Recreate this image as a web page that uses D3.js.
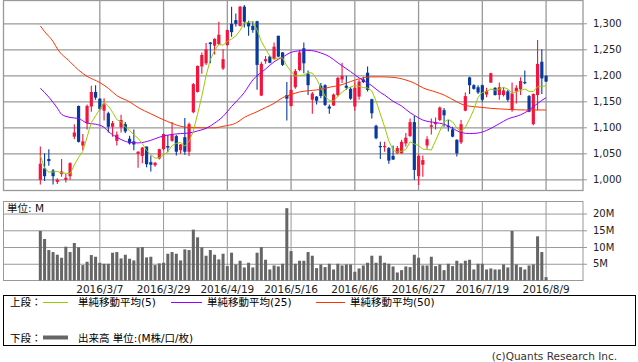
<!DOCTYPE html>
<html>
<head>
<meta charset="utf-8">
<script src="https://cdn.jsdelivr.net/npm/d3@7"></script>
<style>
    body { margin: 0; background: #fff; }
    svg { display: block; font-family: "DejaVu Sans", "Noto Sans CJK JP", sans-serif; }
    .grid line { stroke: #999; }
    .grid.top line { stroke-width: 1.3; }
    .grid .domain { display: none; }
    .axis .domain { display: none; }
    .axis line { stroke: #999; }
</style>
</head>
<body>
<svg width="638" height="362"></svg>
<script>
// trading days shown (categories)
const dates = [
    "2016/2/16","2016/2/17","2016/2/18","2016/2/19","2016/2/22","2016/2/23","2016/2/24","2016/2/25","2016/2/26","2016/2/29",
    "2016/3/1","2016/3/2","2016/3/3","2016/3/4","2016/3/7","2016/3/8","2016/3/9","2016/3/10","2016/3/11","2016/3/14",
    "2016/3/15","2016/3/16","2016/3/17","2016/3/18","2016/3/22","2016/3/23","2016/3/24","2016/3/25","2016/3/28","2016/3/29",
    "2016/3/30","2016/3/31","2016/4/1","2016/4/4","2016/4/5","2016/4/6","2016/4/7","2016/4/8","2016/4/11","2016/4/12",
    "2016/4/13","2016/4/14","2016/4/15","2016/4/18","2016/4/19","2016/4/20","2016/4/21","2016/4/22","2016/4/25","2016/4/26",
    "2016/4/27","2016/4/28","2016/5/2","2016/5/6","2016/5/9","2016/5/10","2016/5/11","2016/5/12","2016/5/13","2016/5/16",
    "2016/5/17","2016/5/18","2016/5/19","2016/5/20","2016/5/23","2016/5/24","2016/5/25","2016/5/26","2016/5/27","2016/5/30",
    "2016/5/31","2016/6/1","2016/6/2","2016/6/3","2016/6/6","2016/6/7","2016/6/8","2016/6/9","2016/6/10","2016/6/13",
    "2016/6/14","2016/6/15","2016/6/16","2016/6/17","2016/6/20","2016/6/21","2016/6/22","2016/6/23","2016/6/24","2016/6/27",
    "2016/6/28","2016/6/29","2016/6/30","2016/7/1","2016/7/4","2016/7/5","2016/7/6","2016/7/7","2016/7/8","2016/7/11",
    "2016/7/12","2016/7/13","2016/7/14","2016/7/15","2016/7/19","2016/7/20","2016/7/21","2016/7/22","2016/7/25","2016/7/26",
    "2016/7/27","2016/7/28","2016/7/29","2016/8/1","2016/8/2","2016/8/3","2016/8/4","2016/8/5","2016/8/8","2016/8/9"
];

const tickLabels = ["2016/3/7", "2016/3/29", "2016/4/19", "2016/5/16", "2016/6/6", "2016/6/27", "2016/7/19", "2016/8/9"];
const priceTicks = [1000, 1050, 1100, 1150, 1200, 1250, 1300];
const volTicks = [5, 10, 15, 20];

const open = [999,1021,1039,1017,995,1010,999,1006,1082,1141, 1065,1108,1140,1168,1155,1132,1127,1101,1074,1100,
    1106,1078,1073,1049,1045,1063,1033,1027,1040,1058, 1064,1074,1083,1056,1081,1053,1129,1168,1217,1223,
    1263,1257,1260,1213,1258,1299,1306,1295,1332,1301, 1295,1304,1161,1227,1236,1232,1276,1244,1162,1141,
    1177,1210,1252,1203,1153,1159,1180,1181,1140,1142, 1162,1192,1180,1174,1140,1159,1192,1205,1154,1103,
    1064,1063,1060,1045,1050,1050,1069,1083,1110,1006, 1028,1065,1101,1106,1114,1133,1103,1096,1076,1071,
    1132,1196,1181,1177,1181,1163,1186,1176,1162,1162, 1169,1133,1169,1173,1187,1160,1106,1162,1226,1199];

const high = [1063,1050,1058,1020,1002,1039,1010,1033,1106,1142, 1087,1144,1180,1181,1156,1156,1130,1112,1092,1124,
    1110,1084,1096,1054,1062,1063,1046,1033,1059,1088, 1085,1110,1085,1068,1118,1109,1185,1219,1244,1262,
    1264,1271,1303,1250,1288,1332,1319,1333,1335,1305, 1304,1305,1226,1237,1238,1263,1276,1245,1187,1200,
    1212,1249,1263,1209,1168,1160,1185,1183,1144,1165, 1197,1224,1199,1177,1188,1192,1197,1217,1155,1105,
    1072,1072,1062,1065,1064,1076,1089,1117,1122,1048, 1046,1083,1117,1119,1140,1137,1114,1101,1077,1114,
    1167,1197,1183,1181,1182,1176,1205,1177,1186,1177, 1172,1186,1181,1196,1209,1162,1165,1268,1250,1200];

const low = [990,997,1026,990,991,1005,994,999,1077,1071, 1056,1096,1130,1153,1133,1113,1090,1082,1065,1090,
    1089,1067,1056,1022,1031,1023,1015,1024,1038,1056, 1052,1072,1046,1049,1047,1045,1127,1167,1203,1220,
    1223,1240,1258,1210,1257,1274,1294,1294,1292,1276, 1282,1172,1160,1222,1223,1230,1235,1218,1113,1140,
    1174,1208,1204,1162,1126,1144,1156,1141,1126,1141, 1159,1185,1172,1153,1132,1153,1185,1169,1117,1077,
    1039,1053,1030,1037,1049,1049,1063,1082,999,989, 1005,1059,1086,1096,1112,1101,1092,1081,1044,1068,
    1131,1164,1172,1164,1149,1158,1185,1161,1153,1159, 1149,1130,1146,1162,1183,1129,1104,1133,1164,1187];

const close = [1030,1006,1035,1006,999,1015,1003,1031,1090,1072, 1073,1141,1168,1157,1135,1144,1101,1108,1086,1114,
    1092,1069,1067,1053,1061,1029,1028,1032,1058,1087, 1061,1086,1053,1067,1053,1106,1183,1218,1239,1250,
    1260,1270,1278,1231,1287,1283,1299,1332,1303,1294, 1287,1220,1222,1231,1224,1255,1236,1220,1155,1172,
    1208,1244,1223,1181,1165,1151,1160,1143,1136,1163, 1195,1199,1176,1155,1176,1188,1187,1172,1127,1079,
    1063,1064,1036,1038,1060,1072,1080,1110,1018,1045, 1037,1077,1104,1109,1138,1123,1101,1082,1050,1106,
    1160,1181,1174,1167,1153,1170,1204,1162,1177,1171, 1153,1165,1176,1189,1185,1130,1164,1222,1194,1188];

// volume in millions
const volume = [14.8,12.4,9.1,8.5,7.7,6.8,10.1,8.5,11.2,9.9, 4.6,5.6,7.6,7.1,5.3,5.0,5.0,8.3,8.5,6.6,
    7.7,6.5,6.0,9.8,10.0,6.9,7.1,4.6,5.1,5.3, 8.0,8.5,8.0,6.0,9.3,9.1,15.2,12.9,9.9,7.4,
    9.1,7.7,6.3,8.0,4.3,8.3,4.8,5.9,3.9,5.3, 3.9,8.3,10.0,6.2,3.3,4.5,4.2,5.0,21.6,8.8,
    5.0,5.9,5.9,8.5,7.4,3.7,4.8,4.0,5.0,3.3, 5.0,4.5,4.8,4.8,2.6,3.6,4.5,5.3,7.4,5.3,
    7.4,5.3,5.0,4.2,2.4,3.1,4.2,4.0,7.7,6.8, 4.5,4.5,7.1,4.3,4.8,3.1,5.0,4.3,5.9,5.1,
    5.9,6.2,3.3,5.0,5.0,3.3,3.6,3.3,3.3,4.8, 3.9,14.8,4.8,4.0,3.3,4.5,4.8,13.2,8.5,1.0];

// moving averages
const ma5 = [1046,1021,1014,1014,1015.2,1012.2,1011.6,1010.8,1027.6,1042.2, 1053.8,1081.4,1108.8,1122.2,1134.8,1149,1141,1129,1114.8,1110.6,
    1100.2,1093.8,1085.6,1079,1068.4,1055.8,1047.6,1040.6,1041.6,1046.8, 1053.2,1064.8,1069,1070.8,1064,1073,1092.4,1125.4,1159.8,1199.2,
    1230,1247.4,1259.4,1257.8,1265.2,1269.8,1275.6,1286.4,1300.8,1302.2, 1303,1287.2,1265.2,1250.8,1236.8,1230.4,1233.6,1233.2,1218,1207.6,
    1198.2,1199.8,1200.4,1205.6,1204.2,1192.8,1176,1160,1151,1150.6, 1159.4,1167.2,1173.8,1177.6,1180.2,1178.8,1176.4,1175.6,1170,1150.6,
    1125.6,1101,1073.8,1056,1052.2,1054,1057.2,1072,1068,1065, 1058,1057.4,1056.2,1074.4,1093,1110.2,1115,1110.6,1098.8,1092.4,
    1099.8,1115.8,1134.2,1157.6,1167,1169,1173.6,1171.2,1173.2,1176.8, 1173.4,1165.6,1168.4,1170.8,1173.6,1169,1168.8,1178,1179,1179.6];

// [bar index, value]
const ma25 = [[0,1175],[2,1158],[4,1137],[5,1125],[7,1119],[9,1117],[11,1108],[13,1106],[15,1100],[16,1092],
    [18,1081],[20,1073],[21,1071],[23,1070],[26,1075],[28,1081],[30,1085],[33,1088],[35,1089],[37,1093],
    [39,1098],[41,1108],[43,1121],[45,1140],[48,1167],[50,1191],[53,1212],[55,1226],[57,1235],[59,1244],
    [61,1247],[63,1248],[66,1243],[68,1236],[70,1224],[73,1207],[75,1195],[78,1180],[80,1167],[81,1162],
    [83,1150],[85,1141],[87,1128],[88,1123],[90,1114],[93,1109],[95,1106],[97,1098],[99,1090],[101,1088],
    [103,1089],[105,1094],[108,1107],[110,1116],[113,1124],[115,1133],[117,1146],[119,1157]];

const ma50 = [[0,1295],[1,1284],[3,1265],[4,1251],[7,1226],[9,1210],[11,1198],[14,1186],[16,1175],[18,1161],
    [21,1149],[23,1138],[26,1126],[28,1118],[30,1111],[33,1102],[35,1099.5],[38,1099],[41,1099],[43,1102],
    [46,1108],[48,1119],[51,1130],[53,1138],[55,1146],[57,1157],[59,1163],[61,1168],[64,1171],[66,1173],
    [68,1177],[71,1182],[73,1188],[75,1193],[78,1197],[80,1197],[83,1196],[86,1191],[88,1185],[90,1176],
    [93,1168],[95,1162],[98,1149],[100,1142],[103,1139],[106,1136.5],[110,1134.5],[114,1133.3],[119,1133.3]];

const upColor = "#f5143c";
const downColor = "#083a9c";

const svg = d3.select("svg");

svg.append("rect")
    .attr("width", 638)
    .attr("height", 362)
    .attr("fill", "#fff");

// scales
const x = d3.scaleBand()
    .domain(dates)
    .range([38.2, 548.2]);

const cx = i => x(dates[i]) + x.bandwidth() / 2;

const y = d3.scaleLinear()
    .domain([978.5, 1343.8])
    .range([190.5, 0.5]);

const yVol = d3.scaleLinear()
    .domain([0, 23.6])
    .range([280.5, 201.5]);

// grid, price panel
svg.append("g")
    .attr("class", "grid top")
    .attr("transform", "translate(0,190.5)")
    .call(d3.axisBottom(x).tickValues(tickLabels).tickSize(-190).tickFormat(""));

svg.append("g")
    .attr("class", "grid top")
    .attr("transform", "translate(583,0)")
    .call(d3.axisRight(y).tickValues(priceTicks).tickSize(-580).tickFormat(""));

// grid, volume panel
svg.append("g")
    .attr("class", "grid")
    .attr("transform", "translate(0,280.5)")
    .call(d3.axisBottom(x).tickValues(tickLabels).tickSize(-79).tickFormat(""));

svg.append("g")
    .attr("class", "grid")
    .attr("transform", "translate(583,0)")
    .call(d3.axisRight(yVol).tickValues(volTicks).tickSize(-580).tickFormat(""));

// panel borders
svg.append("rect")
    .attr("x", 3.5).attr("y", 0.5)
    .attr("width", 579.5).attr("height", 190)
    .attr("fill", "none").attr("stroke", "#999").attr("stroke-width", 1.3);

svg.append("rect")
    .attr("x", 3.5).attr("y", 201.5)
    .attr("width", 579.5).attr("height", 79)
    .attr("fill", "none").attr("stroke", "#999");

// right axes
svg.append("g")
    .attr("class", "axis")
    .attr("transform", "translate(583,0)")
    .call(d3.axisRight(y).tickValues(priceTicks).tickSize(4).tickPadding(6).tickFormat(d3.format(",")));

svg.append("g")
    .attr("class", "axis")
    .attr("transform", "translate(583,0)")
    .call(d3.axisRight(yVol).tickValues(volTicks).tickSize(4).tickPadding(6).tickFormat(d => d + "M"));

svg.selectAll(".axis text")
    .attr("font-family", "DejaVu Sans")
    .attr("font-size", 10)
    .attr("fill", "#222");

// date labels
const dateAxis = svg.append("g")
    .attr("class", "axis")
    .attr("transform", "translate(0,280.5)")
    .call(d3.axisBottom(x).tickValues(tickLabels).tickSize(0).tickPadding(5));

dateAxis.selectAll("text")
    .attr("font-family", "DejaVu Sans")
    .attr("font-size", 10.5)
    .attr("fill", "#222");

// candles
const candles = svg.append("g");

candles.selectAll("line")
    .data(dates)
    .join("line")
    .attr("x1", (d, i) => cx(i))
    .attr("x2", (d, i) => cx(i))
    .attr("y1", (d, i) => y(high[i]))
    .attr("y2", (d, i) => y(low[i]))
    .attr("stroke", (d, i) => close[i] >= open[i] ? upColor : downColor)
    .attr("stroke-width", 1.1);

candles.selectAll("rect")
    .data(dates)
    .join("rect")
    .attr("x", (d, i) => cx(i) - 1.6)
    .attr("width", 3.2)
    .attr("y", (d, i) => y(Math.max(open[i], close[i])))
    .attr("height", (d, i) => Math.max(1.2, Math.abs(y(open[i]) - y(close[i]))))
    .attr("fill", (d, i) => close[i] >= open[i] ? upColor : downColor);

// moving average lines
const maLine = d3.line()
    .x(d => cx(d[0]))
    .y(d => y(d[1]));

svg.append("path")
    .datum(ma50)
    .attr("d", maLine.curve(d3.curveMonotoneX))
    .attr("fill", "none")
    .attr("stroke", "#ff3300")
    .attr("stroke-width", 1);

svg.append("path")
    .datum(ma25)
    .attr("d", maLine.curve(d3.curveMonotoneX))
    .attr("fill", "none")
    .attr("stroke", "#9900ff")
    .attr("stroke-width", 1);

svg.append("path")
    .datum(ma5.map((v, i) => [i, v]))
    .attr("d", maLine.curve(d3.curveLinear))
    .attr("fill", "none")
    .attr("stroke", "#99cc00")
    .attr("stroke-width", 1);

// volume bars
svg.append("g")
    .selectAll("rect")
    .data(dates)
    .join("rect")
    .attr("x", (d, i) => cx(i) - 1.5)
    .attr("width", 3)
    .attr("y", (d, i) => yVol(volume[i]))
    .attr("height", (d, i) => yVol(0) - yVol(volume[i]))
    .attr("fill", "#666");

// unit label
svg.append("text")
    .attr("x", 7)
    .attr("y", 212)
    .attr("font-size", 10.5)
    .attr("fill", "#111")
    .text("単位: M");

// legend
svg.append("rect")
    .attr("x", 3.5).attr("y", 295.5)
    .attr("width", 632).attr("height", 50)
    .attr("fill", "none").attr("stroke", "#000");

const legendItems = [
    { label: "単純移動平均(5)", color: "#99cc00", x1: 43, x2: 68, tx: 78 },
    { label: "単純移動平均(25)", color: "#9900ff", x1: 171, x2: 202, tx: 207 },
    { label: "単純移動平均(50)", color: "#ff3300", x1: 316, x2: 345, tx: 350 }
];

svg.append("text")
    .attr("x", 10).attr("y", 306)
    .attr("font-size", 10.5)
    .text("上段：");

legendItems.forEach(d => {
    svg.append("line")
        .attr("x1", d.x1).attr("x2", d.x2)
        .attr("y1", 302.5).attr("y2", 302.5)
        .attr("stroke", d.color)
        .attr("stroke-width", 1);
    svg.append("text")
        .attr("x", d.tx).attr("y", 306)
        .attr("font-size", 10.5)
        .text(d.label);
});

svg.append("text")
    .attr("x", 10).attr("y", 341.5)
    .attr("font-size", 10.5)
    .text("下段：");

svg.append("line")
    .attr("x1", 43).attr("x2", 68)
    .attr("y1", 337.5).attr("y2", 337.5)
    .attr("stroke", "#666")
    .attr("stroke-width", 4);

svg.append("text")
    .attr("x", 78).attr("y", 341.5)
    .attr("font-size", 10.5)
    .text("出来高 単位:(M株/口/枚)");

// copyright
svg.append("text")
    .attr("x", 617).attr("y", 359.5)
    .attr("text-anchor", "end")
    .attr("font-size", 10.5)
    .attr("fill", "#333")
    .text("(c)Quants Research Inc.");
</script>
</body>
</html>
